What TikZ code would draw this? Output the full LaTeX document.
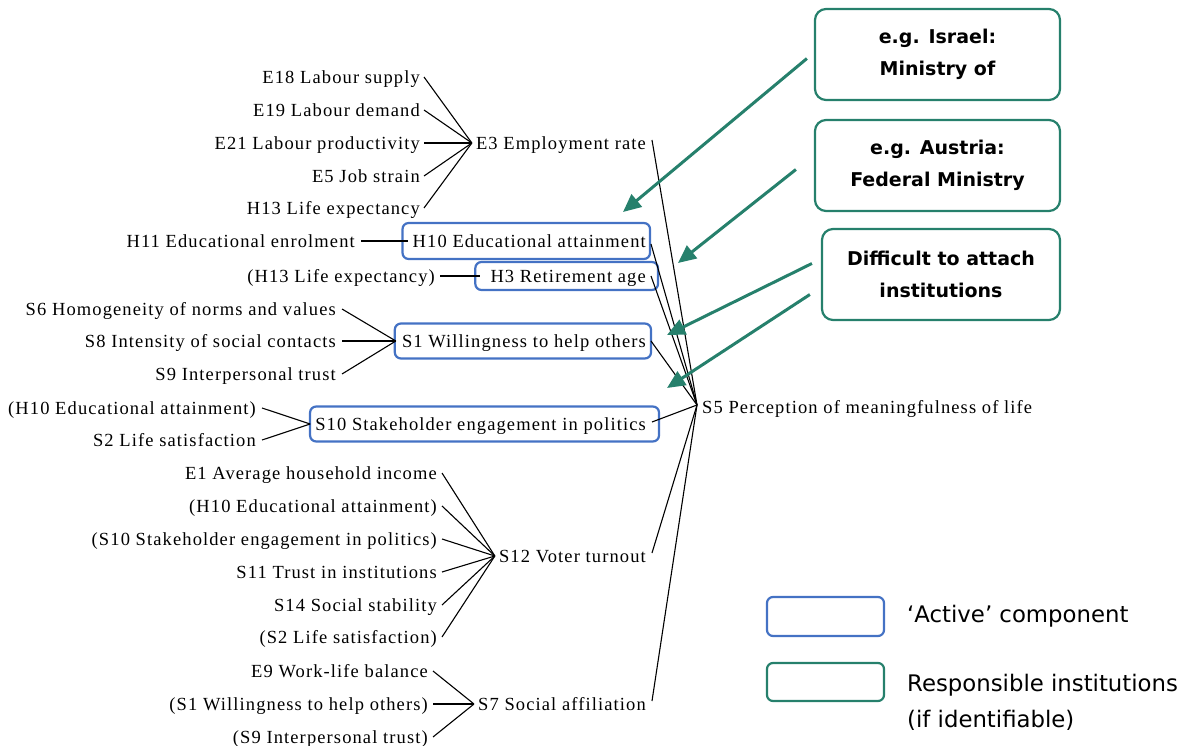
\documentclass[tikz,border=0pt]{standalone}
\usepackage{fontspec}
\setmainfont{Liberation Serif}
\newfontfamily\lblfont[LetterSpace=6]{Liberation Serif}
\newfontfamily\dvsans{DejaVu Sans}
\usetikzlibrary{fit,arrows.meta}
\definecolor{actblue}{RGB}{68,114,196}
\definecolor{instgreen}{RGB}{38,128,108}
\begin{document}
\begin{tikzpicture}[x=1pt,y=-1pt,
  lbl/.style={font=\lblfont\fontsize{18.5}{22}\selectfont, inner sep=0pt, text height=12.5pt, text depth=0pt},
  lft/.style={lbl, anchor=east},
  mid/.style={lbl, anchor=east},
  conn/.style={draw=black, line width=1.1pt},
  abox/.style={draw=actblue, line width=2.2pt, rounded corners=6pt, inner xsep=0pt, inner ysep=11pt},
  inst/.style={draw=instgreen, line width=2.2pt, rounded corners=11pt, minimum width=245pt, minimum height=91pt, align=center, inner sep=0pt, font=\dvsans\bfseries\fontsize{19}{32}\selectfont},
  instarrow/.style={draw=instgreen, line width=3pt, -{Triangle[length=18pt,width=16pt]}},
  legtext/.style={font=\dvsans\fontsize{22.8}{36}\selectfont, inner sep=0pt, align=left, anchor=west}
]
\useasboundingbox (0,0) rectangle (1187,746);

% ---------- E3 group
\node[lft] (e18) at (420,77) {E18 Labour supply};
\node[lft] (e19) at (420,110) {E19 Labour demand};
\node[lft] (e21) at (420,143) {E21 Labour productivity};
\node[lft] (e5) at (420,176) {E5 Job strain};
\node[lft] (h13a) at (420,208) {H13 Life expectancy};
\node[mid] (e3) at (646,143) {E3 Employment rate};
\foreach \n in {e18,e19,e21,e5,h13a}
  \draw[conn] ([xshift=4pt]\n.east) -- ([xshift=-4pt]e3.west);

% ---------- H10
\node[lft] (h11) at (355,241) {H11 Educational enrolment};
\node[mid] (h10) at (646,241) {H10 Educational attainment};
\node[abox, fit={([xshift=-10pt]h10.west) ([xshift=4pt]h10.east) (h10.north) (h10.south)}, inner ysep=11.5pt] (h10box) {};
\draw[conn] ([xshift=6pt]h11.east) -- ([xshift=-5pt]h10.west);

% ---------- H3
\node[lft] (h13b) at (435,276) {(H13 Life expectancy)};
\node[mid] (h3) at (646,276) {H3 Retirement age};
\node[abox, fit={([xshift=-15pt]h3.west) ([xshift=12pt]h3.east) (h3.north) (h3.south)}, inner ysep=7.5pt] (h3box) {};
\draw[conn] ([xshift=5pt]h13b.east) -- ([xshift=-10pt]h3.west);

% ---------- S1
\node[lft] (s6) at (336,309) {S6 Homogeneity of norms and values};
\node[lft] (s8) at (336,341) {S8 Intensity of social contacts};
\node[lft] (s9) at (336,374) {S9 Interpersonal trust};
\node[mid] (s1) at (646,341) {S1 Willingness to help others};
\node[abox, fit={([xshift=-7pt]s1.west) ([xshift=5pt]s1.east) (s1.north) (s1.south)}] (s1box) {};
\foreach \n in {s6,s8,s9}
  \draw[conn] ([xshift=6pt]\n.east) -- ([xshift=-6pt]s1.west);

% ---------- S10
\node[lft] (h10b) at (256,408) {(H10 Educational attainment)};
\node[lft] (s2) at (256,440) {S2 Life satisfaction};
\node[mid] (s10) at (646,424) {S10 Stakeholder engagement in politics};
\node[abox, fit={([xshift=-5pt]s10.west) ([xshift=13pt]s10.east) (s10.north) (s10.south)}] (s10box) {};
\foreach \n in {h10b,s2}
  \draw[conn] ([xshift=6pt]\n.east) -- ([xshift=-5pt]s10.west);

% ---------- S5
\node[lbl, anchor=west] (s5) at (702,407) {S5 Perception of meaningfulness of life};

% ---------- S12
\node[lft] (e1) at (437,473) {E1 Average household income};
\node[lft] (h10c) at (437,506) {(H10 Educational attainment)};
\node[lft] (s10b) at (437,539) {(S10 Stakeholder engagement in politics)};
\node[lft] (s11) at (437,572) {S11 Trust in institutions};
\node[lft] (s14) at (437,605) {S14 Social stability};
\node[lft] (s2b) at (437,637) {(S2 Life satisfaction)};
\node[mid] (s12) at (646,556) {S12 Voter turnout};
\foreach \n in {e1,h10c,s10b,s11,s14,s2b}
  \draw[conn] ([xshift=5pt]\n.east) -- ([xshift=-4pt]s12.west);

% ---------- S7
\node[lft] (e9) at (428,671) {E9 Work-life balance};
\node[lft] (s1b) at (428,704) {(S1 Willingness to help others)};
\node[lft] (s9b) at (428,737) {(S9 Interpersonal trust)};
\node[mid] (s7) at (646,704) {S7 Social affiliation};
\foreach \n in {e9,s1b,s9b}
  \draw[conn] ([xshift=5pt]\n.east) -- ([xshift=-4pt]s7.west);

% ---------- into S5
\coordinate (hub) at ([xshift=-5pt,yshift=2pt]s5.west);
\draw[conn] ([xshift=6pt,yshift=3pt]e3.east) -- (hub);
\draw[conn] ([xshift=5pt,yshift=-3pt]h10.east) -- (hub);
\draw[conn] ([xshift=5pt]h3.east) -- (hub);
\draw[conn] ([xshift=5pt]s1.east) -- (hub);
\draw[conn] ([xshift=6pt,yshift=2pt]s10.east) -- (hub);
\draw[conn] ([xshift=6pt,yshift=3pt]s12.east) -- (hub);
\draw[conn] ([xshift=6pt,yshift=3pt]s7.east) -- (hub);

% ---------- institutions
\node[inst] (isr) at (937.5,54.5) {e.g. Israel:\\Ministry of};
\node[inst] (aut) at (937.5,165.5) {e.g. Austria:\\Federal Ministry};
\node[inst, minimum width=238pt] (dif) at (941,274.5) {Difficult to attach\\institutions};
\coordinate (t1) at (623,212);
\coordinate (t2) at (678,263);
\coordinate (t3) at (667,335);
\coordinate (t4) at (667,388);
\draw[instarrow] ([xshift=-7pt,yshift=-4pt]isr.west) -- (t1);
\draw[instarrow] ([xshift=-18pt,yshift=-4pt]aut.west) -- (t2);
\draw[instarrow] ([xshift=-9pt,yshift=11pt]dif.west) -- (t3);
\draw[instarrow] ([xshift=-11pt,yshift=-20pt]dif.west) -- (t4);

% ---------- legend
\node[draw=actblue, line width=2.2pt, rounded corners=6pt, minimum width=117pt, minimum height=39pt, inner sep=0pt] (legA) at (825.5,616.5) {};
\node[draw=instgreen, line width=2.2pt, rounded corners=6pt, minimum width=117pt, minimum height=38pt, inner sep=0pt] (legI) at (825.5,682) {};
\node[legtext] (legAt) at (907,616) {‘Active’ component};
\node[legtext] (legIt) at (907,702) {Responsible institutions\\(if identifiable)};
\end{tikzpicture}
\end{document}
